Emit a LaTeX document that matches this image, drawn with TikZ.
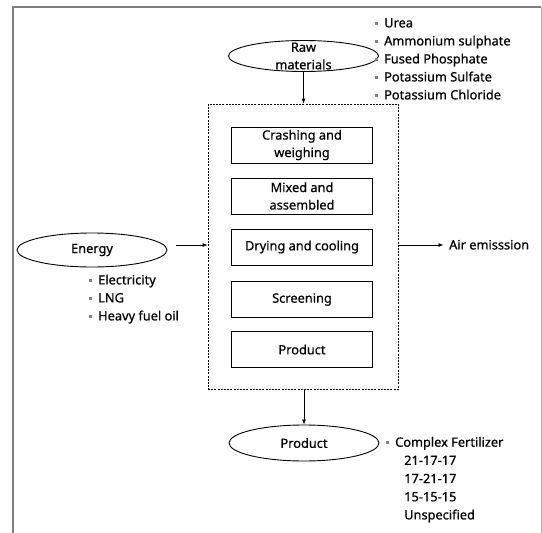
\documentclass[tikz,border=0pt]{standalone}
\usepackage{fontspec}
\setmainfont{Noto Sans}[FakeBold=0.7]
\usetikzlibrary{shapes.geometric,arrows.meta}
\newcommand\sqbul{\textcolor{gray}{\rule[2.6pt]{2.8pt}{2.8pt}}}
\newcommand\bitem[1]{\llap{\sqbul\hspace{6.5pt}}#1}
\begin{document}
\begin{tikzpicture}[x=1pt,y=-1pt,
  every node/.style={font=\fontsize{12.8}{17.5}\selectfont},
  proc/.style={draw, line width=0.9pt, minimum width=141pt, minimum height=36pt, inner sep=0pt, align=center},
  oval/.style={draw, ellipse, line width=0.9pt, inner sep=0pt, minimum width=150pt},
  itm/.style={anchor=west, inner sep=0pt, text height=8.8pt, text depth=0pt},
  arr/.style={-{Latex[length=5pt,width=4pt]}, line width=0.8pt}]
\useasboundingbox (0,0) rectangle (542,533);
% outer frame
\draw[gray, line width=1.4pt] (12.8,533) -- (12.8,7) -- (541,7);
\draw[gray!55, line width=1pt] (541,7) -- (541,533);

% dashed process box
\node[draw, dash pattern=on 2pt off 1.2pt, line width=0.8pt, minimum width=190.5pt, minimum height=285pt, inner sep=0pt] (frame) at (303.25,246.5) {};

% process steps
\node[proc] (crash) at (302,145) {Crashing and\\weighing};
\node[proc] (mixed) at (302,196) {Mixed and\\assembled};
\node[proc] (dry) at (302,247) {Drying and cooling};
\node[proc] (screen) at (302,299.5) {Screening};
\node[proc] (prodbox) at (302,349.5) {Product};

% ovals
\node[oval, minimum height=31pt] (raw) at (303.5,56) {};
\node[align=center, inner sep=0pt] (rawtext) at (raw) {Raw\\materials};
\node[oval, minimum height=34pt] (energy) at (92,250) {Energy};
\node[oval, minimum height=36pt] (prod) at (304,443) {Product};

% raw materials list
\node[itm] (r1) at (384,23) {\bitem{Urea}};
\node[itm] (r2) at (384,41) {\bitem{Ammonium sulphate}};
\node[itm] (r3) at (384,59) {\bitem{Fused Phosphate}};
\node[itm] (r4) at (384,77) {\bitem{Potassium Sulfate}};
\node[itm] (r5) at (384,95) {\bitem{Potassium Chloride}};

% energy list
\node[itm] (e1) at (98,280) {\bitem{Electricity}};
\node[itm] (e2) at (98,298) {\bitem{LNG}};
\node[itm] (e3) at (98,316) {\bitem{Heavy fuel oil}};

% product list
\node[itm] (p1) at (395,442.3) {\bitem{Complex Fertilizer}};
\node[itm] (p2) at (404,460.5) {21-17-17};
\node[itm] (p3) at (404,478.7) {17-21-17};
\node[itm] (p4) at (404,496.9) {15-15-15};
\node[itm] (p5) at (404,515) {Unspecified};

% air emission
\node[itm] (air) at (449,245) {Air emisssion};

% connectors
\coordinate (ein) at (175.6,245);
\coordinate (aout) at (443.5,245);
\draw[arr] (raw.south) -- (raw.south |- frame.north);
\draw[arr] (prod.north |- frame.south) -- (prod.north);
\draw[arr] (ein) -- (ein -| frame.west);
\draw[arr] (aout -| frame.east) -- (aout);
\end{tikzpicture}
\end{document}
